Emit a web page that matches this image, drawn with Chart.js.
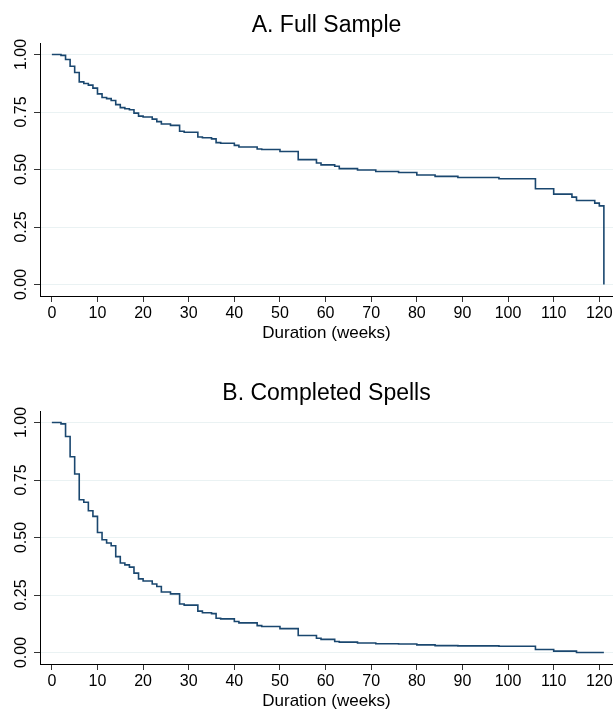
<!DOCTYPE html>
<html>
<head>
<meta charset="utf-8">
<script src="https://cdn.jsdelivr.net/npm/chart.js@4"></script>
<style>
  html, body { margin: 0; padding: 0; background: #fff; overflow: hidden; }
  canvas { display: block; }
</style>
</head>
<body>
<canvas id="chartA" width="613" height="368"></canvas>
<canvas id="chartB" width="613" height="368"></canvas>
<script>
// Kaplan-Meier survival estimates
const weeksA = [0, 2, 3, 4, 5, 6, 7, 8, 9, 10, 11, 12, 13, 14, 15, 16, 17, 18, 19, 20,
  22, 23, 24, 26, 28, 29, 32, 33, 35, 36, 37, 40, 41, 45, 46, 50, 54, 58, 59, 62,
  63, 67, 71, 76, 80, 84, 89, 98, 106, 110, 114, 115, 119, 120, 121];
const survA = [1.000, 0.996, 0.978, 0.949, 0.922, 0.881, 0.874, 0.867, 0.854, 0.829,
  0.813, 0.808, 0.800, 0.782, 0.769, 0.764, 0.760, 0.745, 0.732, 0.728,
  0.719, 0.708, 0.698, 0.692, 0.666, 0.662, 0.641, 0.638, 0.633, 0.617,
  0.614, 0.605, 0.598, 0.589, 0.587, 0.578, 0.543, 0.528, 0.520, 0.514,
  0.504, 0.498, 0.491, 0.487, 0.476, 0.470, 0.465, 0.460, 0.416, 0.393,
  0.380, 0.365, 0.354, 0.342, 0.000];

const weeksB = [0, 2, 3, 4, 5, 6, 7, 8, 9, 10, 11, 12, 13, 14, 15, 16, 17, 18, 19, 20,
  22, 23, 24, 26, 28, 29, 32, 33, 35, 36, 37, 40, 41, 45, 46, 50, 54, 58, 59, 62,
  63, 67, 71, 76, 80, 84, 89, 98, 106, 110, 115, 121];
const survB = [1.000, 0.994, 0.939, 0.851, 0.776, 0.664, 0.653, 0.616, 0.592, 0.522,
  0.490, 0.476, 0.464, 0.417, 0.389, 0.381, 0.371, 0.345, 0.320, 0.311,
  0.298, 0.287, 0.263, 0.255, 0.211, 0.206, 0.180, 0.173, 0.169, 0.149,
  0.146, 0.135, 0.129, 0.117, 0.113, 0.104, 0.074, 0.062, 0.057, 0.048,
  0.045, 0.041, 0.038, 0.037, 0.033, 0.030, 0.029, 0.027, 0.013, 0.006,
  0.000, 0.000];

const xTicks = [0, 10, 20, 30, 40, 50, 60, 70, 80, 90, 100, 110, 120];
const yTicks = [0, 0.25, 0.5, 0.75, 1];

const FONT = '"Liberation Sans", Arial, Helvetica, sans-serif';
Chart.defaults.color = '#000';
Chart.defaults.font.family = FONT;

// y tick labels, rotated like the Stata originals
const rotatedYLabels = {
    id: 'rotatedYLabels',
    afterDraw(chart) {
        const s = chart.scales.y;
        const ctx = chart.ctx;
        ctx.save();
        ctx.font = '16px ' + FONT;
        ctx.fillStyle = '#000';
        ctx.textAlign = 'center';
        ctx.textBaseline = 'alphabetic';
        s.ticks.forEach(t => {
            ctx.save();
            ctx.translate(25.5, s.getPixelForValue(t.value));
            ctx.rotate(-Math.PI / 2);
            ctx.fillText(t.value.toFixed(2), 0, 0);
            ctx.restore();
        });
        ctx.restore();
    }
};

function makeChart(id, title, weeks, surv) {
    const points = weeks.map((w, i) => ({ x: w, y: surv[i] }));
    return new Chart(document.getElementById(id), {
        type: 'line',
        data: {
            datasets: [{
                data: points,
                borderColor: '#1a476f',
                borderWidth: 1.6,
                pointRadius: 0,
                fill: false,
                stepped: 'before'
            }]
        },
        options: {
            responsive: false,
            animation: false,
            layout: { padding: 0 },
            plugins: {
                legend: { display: false },
                tooltip: { enabled: false },
                title: {
                    display: true,
                    fullSize: false,
                    text: title,
                    color: '#000',
                    font: { size: 23, weight: 'normal' },
                    padding: { top: 11.4, bottom: 4 }
                }
            },
            scales: {
                x: {
                    type: 'linear',
                    min: -2.6,
                    max: 123,
                    afterBuildTicks: s => { s.ticks = xTicks.map(v => ({ value: v })); },
                    afterFit: s => {
                        s.height = 72;
                        s.paddingLeft = 0;
                        s.paddingRight = 0;
                    },
                    ticks: { font: { size: 16 }, padding: 2, maxRotation: 0, autoSkip: false },
                    grid: { drawOnChartArea: false, tickLength: 6, tickColor: '#333' },
                    border: { color: '#000', width: 1 },
                    title: {
                        display: true,
                        text: 'Duration (weeks)',
                        font: { size: 17 },
                        padding: { top: 0, bottom: 24.7 }
                    }
                },
                y: {
                    type: 'linear',
                    min: -0.05,
                    max: 1.05,
                    afterBuildTicks: s => { s.ticks = yTicks.map(v => ({ value: v })); },
                    afterFit: s => {
                        s.width = 40;
                        s.paddingTop = 0;
                        s.paddingBottom = 0;
                    },
                    ticks: { display: false },
                    grid: { color: '#eaf2f3', lineWidth: 1, tickLength: 6, tickColor: '#333' },
                    border: { color: '#000', width: 1 }
                }
            }
        },
        plugins: [rotatedYLabels]
    });
}

makeChart('chartA', 'A. Full Sample', weeksA, survA);
makeChart('chartB', 'B. Completed Spells', weeksB, survB);
</script>
</body>
</html>
